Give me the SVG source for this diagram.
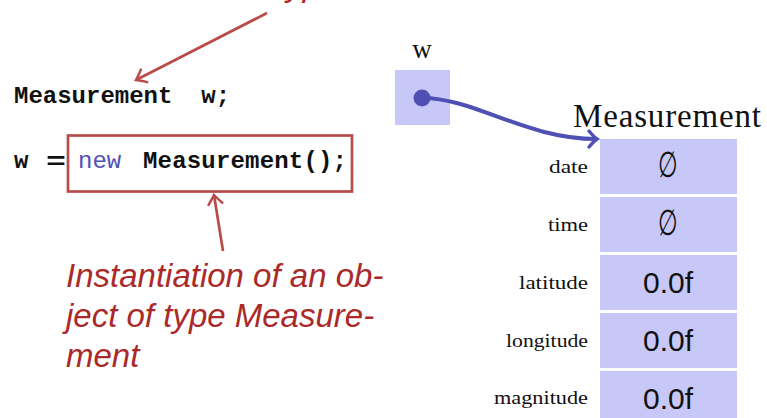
<svg xmlns="http://www.w3.org/2000/svg" width="767" height="418" viewBox="0 0 767 418">
<style>
.code{font-family:"Liberation Mono",monospace;font-size:24px;font-weight:bold;fill:#111}
.kw{font-family:"Liberation Mono",monospace;font-size:24px;fill:#5050b8}
.note{font-family:"Liberation Sans",Arial,sans-serif;font-style:italic;font-size:33px;fill:#aa2a2a}
.serif{font-family:"Liberation Serif","Times New Roman",serif;fill:#111}
.lbl{font-family:"Liberation Serif","Times New Roman",serif;font-size:19px;fill:#111;text-anchor:end}
.cell{fill:#c8c8f8}
.val{font-family:"Liberation Sans",Arial,sans-serif;font-size:30px;fill:#111;text-anchor:middle}
.empty{font-family:"DejaVu Serif","Liberation Serif",serif;font-size:30px;fill:#111;text-anchor:middle}
.red{stroke:#b94b4b;stroke-width:2.7;fill:none}
.blue{stroke:#5050b4;stroke-width:4;fill:none}
</style>
<defs>
<marker id="ra" markerUnits="userSpaceOnUse" markerWidth="20" markerHeight="20" refX="10" refY="10" orient="auto" overflow="visible">
<path d="M 1 3 Q 7 8 10 10 Q 7 12 1 17" fill="none" stroke="#b94b4b" stroke-width="2.5" stroke-linecap="round"/>
</marker>
<marker id="ba" markerUnits="userSpaceOnUse" markerWidth="20" markerHeight="20" refX="10" refY="10" orient="auto" overflow="visible">
<path d="M 2 2 Q 7 8 10 10 Q 7 12 2 18" fill="none" stroke="#5050b4" stroke-width="3.5" stroke-linecap="round"/>
</marker>
</defs>

<g id="top-note">
<text class="note" x="277" y="-4">type</text>
</g>

<g id="declaration">
<text class="code" x="14" y="103" xml:space="preserve">Measurement  w;</text>
</g>

<g id="instantiation">
<text class="code" x="14" y="168">w</text>
<text class="code" x="46" y="169" font-size="32" textLength="20" lengthAdjust="spacingAndGlyphs">=</text>
<rect x="68" y="135.5" width="284" height="56" fill="none" stroke="#b94b4b" stroke-width="2.7"/>
<text class="kw" x="78" y="168">new</text>
<text class="code" x="143" y="168" textLength="204">Measurement();</text>
</g>

<g id="inst-note">
<text class="note" x="66" y="287">Instantiation of an ob-</text>
<text class="note" x="66" y="327">ject of type Measure-</text>
<text class="note" x="66" y="367">ment</text>
</g>

<g id="var-w">
<text class="serif" x="422" y="58" font-size="27" text-anchor="middle">w</text>
<rect class="cell" x="395" y="70" width="55" height="55"/>
<circle cx="422" cy="98" r="8.5" fill="#5050b4"/>
</g>

<g id="object">
<text class="serif" x="573" y="127" font-size="33" textLength="188">Measurement</text>
<rect class="cell" x="600" y="139" width="137" height="55"/>
<rect class="cell" x="600" y="197" width="137" height="55"/>
<rect class="cell" x="600" y="255" width="137" height="55"/>
<rect class="cell" x="600" y="313" width="137" height="55"/>
<rect class="cell" x="600" y="371" width="137" height="55"/>
<text class="lbl" x="588" y="173" textLength="39" lengthAdjust="spacingAndGlyphs">date</text>
<text class="lbl" x="588" y="231" textLength="40" lengthAdjust="spacingAndGlyphs">time</text>
<text class="lbl" x="588" y="289" textLength="69" lengthAdjust="spacingAndGlyphs">latitude</text>
<text class="lbl" x="588" y="347" textLength="82" lengthAdjust="spacingAndGlyphs">longitude</text>
<text class="lbl" x="588" y="404" textLength="94" lengthAdjust="spacingAndGlyphs">magnitude</text>
<text class="empty" transform="translate(668,177) scale(0.75,1.2)">∅</text>
<text class="empty" transform="translate(668,235) scale(0.75,1.2)">∅</text>
<text class="val" x="668" y="293">0.0f</text>
<text class="val" x="668" y="351">0.0f</text>
<text class="val" x="668" y="409">0.0f</text>
</g>

<g id="connectors">
<line class="red" x1="267" y1="13" x2="136" y2="80" marker-end="url(#ra)"/>
<line class="red" x1="223" y1="251" x2="214" y2="195" marker-end="url(#ra)"/>
<path class="blue" d="M 422 98 C 475 98, 525 139, 597 139" marker-end="url(#ba)"/>
</g>
</svg>
